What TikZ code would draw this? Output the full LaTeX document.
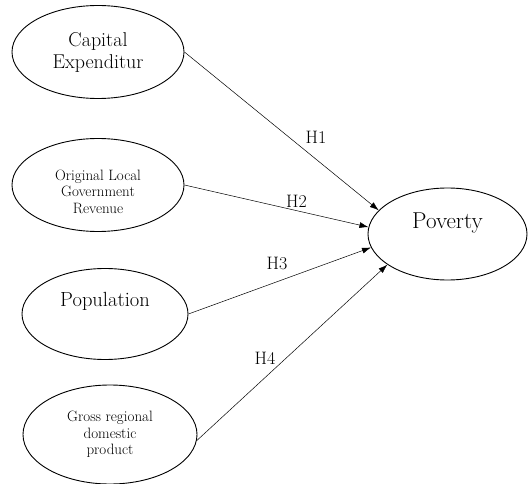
\documentclass[tikz,border=0pt]{standalone}
\usetikzlibrary{shapes.geometric,arrows.meta}

\begin{document}
\begin{tikzpicture}[x=1pt, y=-1pt,
        var/.style={draw, ellipse, line width=0.9pt, inner sep=0pt, align=center},
        big/.style={font=\fontsize{20}{22}\selectfont},
        small/.style={font=\fontsize{15}{16.5}\selectfont},
        hlab/.style={font=\fontsize{18}{20}\selectfont, inner sep=0pt},
        hyp/.style={-{Latex[length=9pt, width=6pt]}, line width=0.5pt}]
        \useasboundingbox (0,0) rectangle (528,484);

        \node[var, small, minimum width=172pt, minimum height=93pt, text height=57pt] (pad) at (98,185) {Original Local\\Government\\Revenue};
        \node[var, big, minimum width=172pt, minimum height=93pt] (capex) at (98,52) {Capital\\Expenditur};
        \node[var, big, font=\fontsize{20.5}{22}\selectfont, minimum width=166pt, minimum height=91pt, text depth=30pt] (pop) at (105,314) {Population};
        \node[var, small, minimum width=174pt, minimum height=99pt] (grdp) at (110,434.5) {Gross regional\\domestic\\product};
        \node[var, font=\fontsize{23}{26}\selectfont, minimum width=159pt, minimum height=92pt, text depth=27.5pt] (pov) at (447.5,234) {Poverty};

        \node[hlab] (h1) at (316,137.5) {H1};
        \node[hlab] (h2) at (296.5,201) {H2};
        \node[hlab] (h3) at (277,263) {H3};
        \node[hlab] (h4) at (265,358) {H4};

        \draw[hyp] (capex.east) -- (pov.161);
        \draw[hyp] (pad.east) -- (pov.175.5);
        \draw[hyp] (pop.east) -- (pov.190.5);
        \draw[hyp] (grdp.-4) -- (pov.207.5);
    \end{tikzpicture}
\end{document}
